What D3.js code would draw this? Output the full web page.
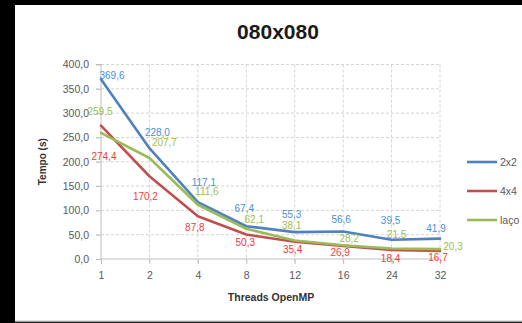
<!DOCTYPE html>
<html>
<head>
<meta charset="utf-8">
<script src="https://cdn.jsdelivr.net/npm/d3@7"></script>
<style>
  html, body { margin: 0; padding: 0; background: #000; }
  svg { display: block; }
  text { font-family: "Liberation Sans", Arial, sans-serif; }
</style>
</head>
<body>
<svg id="chart" width="522" height="323"></svg>
<script>
// Thread counts (categories) and run times in seconds for each decomposition
const threads = ["1", "2", "4", "8", "12", "16", "24", "32"];
const s2x2 = [369.6, 228.0, 117.1, 67.4, 55.3, 56.6, 39.5, 41.9];
const s4x4 = [274.4, 170.2, 87.8, 50.3, 35.4, 26.9, 18.4, 16.7];
const sLaco = [259.5, 207.7, 111.6, 62.1, 38.1, 28.2, 21.5, 20.3];
const seriesNames = ["2x2", "4x4", "laço"];
const yTicks = [0, 50, 100, 150, 200, 250, 300, 350, 400];

// Per-point nudges for the value labels, relative to each point
const labelNudge = {
  "2x2": [[11, -4], [8, -16], [6, -20], [-2, -18], [-3, -18], [-2, -12], [-1, -19], [-4, -10]],
  "4x4": [[3, 31], [-4, 20], [-3, 11], [-1, 8], [-2, 8], [-3, 7], [-1, 8], [-2, 7]],
  "laço": [[-1, -21], [15, -16], [9, -13], [8, -9], [-3, -15], [6, -7], [5, -14], [13, -3]]
};

const series = [
  { name: seriesNames[0], values: s2x2, line: "#4f81bd", label: "#4a8fd8" },
  { name: seriesNames[1], values: s4x4, line: "#c0504d", label: "#f03c3c" },
  { name: seriesNames[2], values: sLaco, line: "#9bbb59", label: "#9cc04e" }
];

const locale = d3.formatLocale({ decimal: ",", thousands: ".", grouping: [3], currency: ["", ""] });
const fmt = locale.format(".1f");

const svg = d3.select("#chart");

// white chart panel on the dark frame
svg.append("rect").attr("x", 15).attr("y", 5).attr("width", 507).attr("height", 316).attr("fill", "#fff");
svg.append("line").attr("x1", 15).attr("x2", 522).attr("y1", 321.5).attr("y2", 321.5)
  .attr("stroke", "#9a9a9a").attr("stroke-width", 1.5);

const x = d3.scalePoint().domain(threads).range([101, 440]);
const y = d3.scaleLinear().domain([0, 400]).range([259, 64.5]);

// horizontal gridlines
svg.append("g").selectAll("line").data(yTicks.filter(d => d > 0)).join("line")
  .attr("x1", 96).attr("x2", 440)
  .attr("y1", d => y(d)).attr("y2", d => y(d))
  .attr("stroke", "#d4d4d4").attr("stroke-width", 1).attr("stroke-dasharray", "3,2");

// vertical gridlines
svg.append("g").selectAll("line").data(threads.slice(1)).join("line")
  .attr("x1", d => x(d)).attr("x2", d => x(d))
  .attr("y1", y(400)).attr("y2", y(0) + 5)
  .attr("stroke", "#d4d4d4").attr("stroke-width", 1).attr("stroke-dasharray", "3,2");

// axes
const yAxis = d3.axisLeft(y).tickValues(yTicks).tickSize(5).tickPadding(7).tickFormat(fmt);
const yG = svg.append("g").attr("transform", `translate(${x(threads[0])},0)`).call(yAxis);
yG.select(".domain").attr("stroke", "#bfbfbf").attr("d", `M-5,${y(400)}H0V${y(0)}`);
yG.selectAll(".tick line").attr("stroke", "#bfbfbf");
yG.selectAll(".tick text").attr("fill", "#595959").style("font-size", "10.5px");

const xAxis = d3.axisBottom(x).tickSize(5).tickPadding(8);
const xG = svg.append("g").attr("transform", `translate(0,${y(0)})`).call(xAxis);
xG.select(".domain").attr("stroke", "#bfbfbf").attr("d", `M${x(threads[0])},0H440`);
xG.selectAll(".tick line").attr("stroke", "#bfbfbf");
xG.selectAll(".tick text").attr("fill", "#595959").style("font-size", "10.5px");

// series lines
const line = d3.line().x((d, i) => x(threads[i])).y(d => y(d));
svg.append("g").selectAll("path").data(series).join("path")
  .attr("d", s => line(s.values))
  .attr("fill", "none")
  .attr("stroke", s => s.line)
  .attr("stroke-width", 2.6)
  .attr("stroke-linejoin", "round")
  .attr("stroke-linecap", "round");

// value labels
series.forEach(s => {
  svg.append("g").selectAll("text").data(s.values).join("text")
    .attr("x", (d, i) => x(threads[i]) + labelNudge[s.name][i][0])
    .attr("y", (d, i) => y(d) + labelNudge[s.name][i][1])
    .attr("text-anchor", "middle")
    .attr("dominant-baseline", "central")
    .attr("fill", s.label)
    .style("font-size", "10px")
    .text(d => fmt(d));
});

// title and axis titles
svg.append("text").attr("x", 278).attr("y", 31).attr("text-anchor", "middle")
  .attr("dominant-baseline", "central")
  .style("font-size", "21px").style("font-weight", "bold").attr("fill", "#1a1a1a")
  .text("080x080");

svg.append("text").attr("transform", `translate(42,${(y(0) + y(400)) / 2}) rotate(-90)`)
  .attr("text-anchor", "middle").attr("dominant-baseline", "central")
  .style("font-size", "10px").style("font-weight", "bold").attr("fill", "#333")
  .text("Tempo (s)");

svg.append("text").attr("x", 271).attr("y", 297).attr("text-anchor", "middle")
  .attr("dominant-baseline", "central")
  .style("font-size", "10.5px").style("font-weight", "bold").attr("fill", "#333")
  .text("Threads OpenMP");

// legend
const legendY = d3.scalePoint().domain(seriesNames).range([162, 220]);
const lg = svg.append("g").selectAll("g").data(series).join("g")
  .attr("transform", s => `translate(467,${legendY(s.name)})`);
lg.append("line").attr("x1", 0).attr("x2", 30).attr("y1", 0).attr("y2", 0)
  .attr("stroke", s => s.line).attr("stroke-width", 2.6);
lg.append("text").attr("x", 33).attr("y", 0).attr("dominant-baseline", "central")
  .attr("fill", "#595959").style("font-size", "10.5px").text(s => s.name);
</script>
</body>
</html>
